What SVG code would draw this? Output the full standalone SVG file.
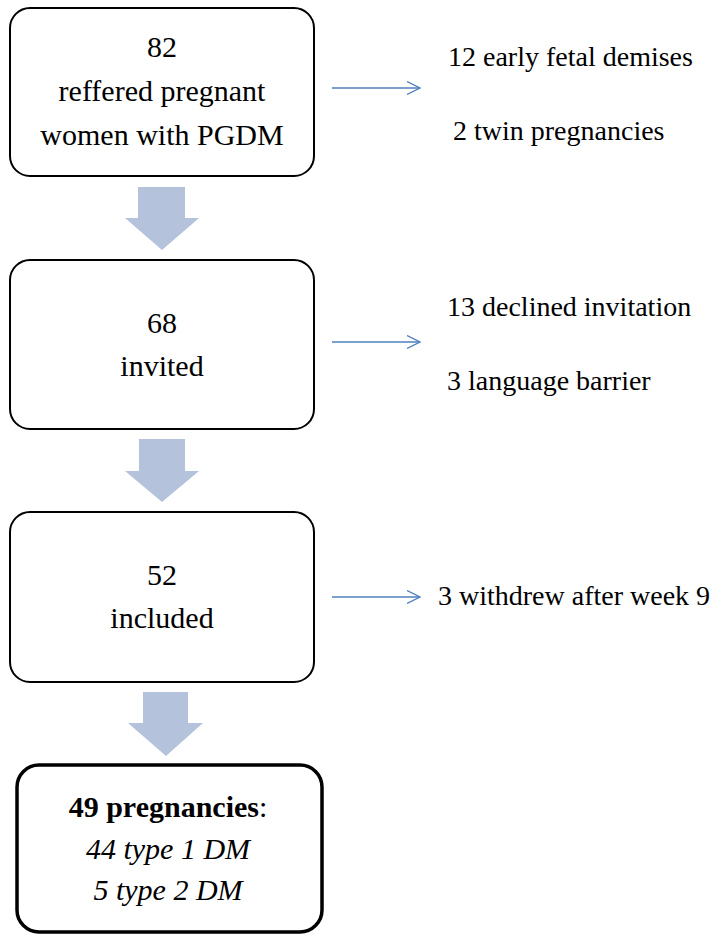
<svg xmlns="http://www.w3.org/2000/svg" width="716" height="934" viewBox="0 0 716 934">
<style>
.box{fill:#fff;stroke:#000;stroke-width:2}
.final{fill:#fff;stroke:#000;stroke-width:3.5}
text{font-family:'Liberation Serif','Times New Roman','DejaVu Serif',serif;fill:#000}
.t{font-size:30px;text-anchor:middle}
.s{font-size:28px}
.blk{fill:#b4c2dc}
.thin{stroke:#4f81bd;stroke-width:1.3;fill:none}
</style>
<defs>
<marker id="chev" viewBox="0 0 14 14" refX="13" refY="7" markerWidth="14" markerHeight="14" markerUnits="userSpaceOnUse" orient="auto">
<path d="M0,0.5 L13,7 L0,13.5" fill="none" stroke="#4f81bd" stroke-width="1.3"/>
</marker>
</defs>
<g id="node-referred">
<rect class="box" x="10" y="8" width="304" height="168" rx="20"/>
<text class="t" x="162" y="57" font-family="Liberation Serif, serif">82</text>
<text class="t" x="162" y="101" font-family="Liberation Serif, serif">reffered pregnant</text>
<text class="t" x="162" y="145" font-family="Liberation Serif, serif">women with PGDM</text>
</g>
<g id="node-invited">
<rect class="box" x="10" y="260" width="304" height="169" rx="20"/>
<text class="t" x="162" y="333">68</text>
<text class="t" x="162" y="376">invited</text>
</g>
<g id="node-included">
<rect class="box" x="10" y="512" width="304" height="170" rx="20"/>
<text class="t" x="162" y="585">52</text>
<text class="t" x="162" y="628">included</text>
</g>
<g id="node-final">
<rect class="final" x="17" y="765" width="305" height="167" rx="22"/>
<text class="t" x="168" y="817"><tspan font-weight="bold">49 pregnancies</tspan>:</text>
<text class="t" x="168" y="859" font-style="italic">44 type 1 DM</text>
<text class="t" x="168" y="900" font-style="italic">5 type 2 DM</text>
</g>
<g id="node-excl1">
<text class="s" x="448" y="66">12 early fetal demises</text>
<text class="s" x="453" y="140">2 twin pregnancies</text>
</g>
<g id="node-excl2">
<text class="s" x="447" y="316">13 declined invitation</text>
<text class="s" x="447" y="390">3 language barrier</text>
</g>
<g id="node-excl3">
<text class="s" x="438" y="605">3 withdrew after week 9</text>
</g>
<g id="connectors">
<path class="blk" d="M138,187 H185 V218 H199 L162,250 L125,218 H138 Z"/>
<path class="blk" d="M139,439 H185 V471 H199 L162,502 L125,471 H139 Z"/>
<path class="blk" d="M143,692 H188 V723 H203 L166,756 L128,723 H143 Z"/>
<line class="thin" x1="332" y1="88" x2="420" y2="88" marker-end="url(#chev)"/>
<line class="thin" x1="332" y1="342" x2="420" y2="342" marker-end="url(#chev)"/>
<line class="thin" x1="332" y1="597" x2="420" y2="597" marker-end="url(#chev)"/>
</g>
</svg>
